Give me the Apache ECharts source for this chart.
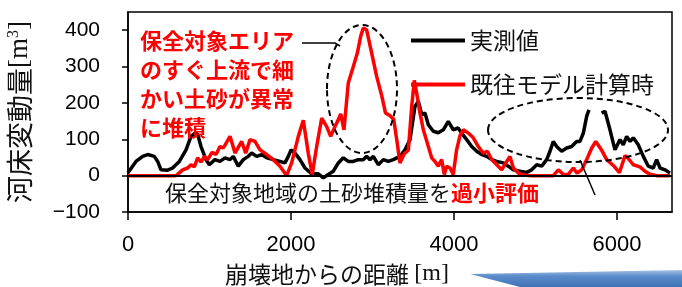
<!DOCTYPE html>
<html>
<head>
<meta charset="utf-8">
<script src="https://cdn.jsdelivr.net/npm/echarts@6/dist/echarts.min.js"></script>
<style>
  html, body { margin: 0; padding: 0; background: #fff; }
  #chart { width: 682px; height: 287px; }
</style>
</head>
<body>
<div id="chart"></div>
<script>
// 実測値 (black)
var blackDist = [0, 98, 180, 241, 323, 364, 405, 487, 548, 630, 712, 773, 822, 855, 896, 957, 998,
    1067, 1129, 1190, 1252, 1292, 1353, 1415, 1476, 1517, 1579, 1640, 1702, 1783, 1865, 1926, 1967,
    2000, 2049, 2110, 2172, 2254, 2335, 2397, 2458, 2519, 2581, 2642, 2703, 2765, 2826, 2887, 2928,
    2969, 3010, 3071, 3133, 3194, 3255, 3337, 3399, 3460, 3521, 3562, 3604, 3644, 3685, 3746, 3807,
    3869, 3930, 3991, 4049, 4094, 4156, 4217, 4279, 4340, 4401, 4463, 4524, 4605, 4666, 4728, 4810,
    4892, 4953, 5015, 5076, 5137, 5178, 5218, 5260, 5321, 5383, 5444, 5505, 5546, 5587, 5628, 5656,
    5730, 5812, 5853, 5914, 5975, 6037, 6077, 6119, 6160, 6200, 6261, 6323, 6384, 6445, 6487, 6528,
    6589, 6650];
var blackVal = [8, 39, 53, 58, 53, 39, 16, 15, 21, 39, 71, 108, 117, 113, 80, 44, 30,
    44, 39, 49, 44, 53, 26, 44, 53, 62, 53, 58, 49, 44, 39, 35, 53,
    71, 62, 44, 21, 5, 5, -6, 3, 12, 35, 49, 39, 39, 44, 44, 53,
    44, 53, 30, 44, 39, 44, 53, 71, 99, 190, 205, 168, 172, 140, 122, 118,
    126, 149, 126, 131, 117, 99, 80, 67, 58, 53, 44, 39, 35, 26, 16, 12,
    9, 16, 30, 26, 44, 67, 94, 80, 67, 76, 80, 94, 94, 117, 163, 181,
    null, 172, 177, 126, 71, 99, 85, 108, 94, 104, 85, 53, 26, 21, 44, 21,
    16, 7];

// 既往モデル計算時 (red)
var redDist = [0, 590, 671, 732, 773, 814, 855, 896, 937, 978, 1031, 1080, 1129, 1170, 1252, 1313,
    1395, 1444, 1497, 1558, 1620, 1702, 1783, 1865, 1947, 2008, 2090, 2151, 2213, 2261, 2315, 2377,
    2438, 2487, 2540, 2581, 2610, 2650, 2703, 2765, 2814, 2855, 2887, 2928, 2990, 3051, 3113, 3160,
    3215, 3260, 3300, 3337, 3390, 3440, 3481, 3513, 3542, 3583, 3624, 3685, 3726, 3767, 3807, 3849,
    3881, 3910, 3951, 3991, 4032, 4074, 4114, 4175, 4237, 4298, 4360, 4409, 4463, 4524, 4585, 4647,
    4687, 4728, 4789, 4851, 4950, 5100, 5218, 5280, 5342, 5400, 5464, 5510, 5567, 5628, 5690, 5740,
    5812, 5873, 5955, 6030, 6098, 6139, 6200, 6282, 6343, 6405, 6487, 6650];
var redVal = [0, 0, 16, 21, 30, 24, 49, 37, 53, 44, 64, 58, 80, 76, 108, 62,
    94, 62, 99, 94, 71, 58, 44, 26, 0, 35, 108, 152, 60, 3, 80, 158,
    135, 108, 135, 154, 170, 126, 255, 300, 337, 383, 406, 401, 337, 273, 220, 172,
    165, 155, 95, 35, 60, 70, 190, 262, 227, 172, 126, 80, 49, 39, 26, 44,
    3, 26, 21, 3, 71, 110, 126, 117, 104, 80, 62, 67, 44, 30, 16, 39,
    53, 21, 7, 2, 0, 0, 0, 16, 3, 3, 21, 7, 16, 44, 76, 94,
    70, 44, 28, 8, 55, 47, 30, 24, 12, 4, 0, 0];

var yTicks = [-100, 0, 100, 200, 300, 400];
var xTicks = [0, 2000, 4000, 6000];

function pairs(xs, ys) {
    var out = [];
    for (var i = 0; i < xs.length; i++) {
        out.push([xs[i], ys[i]]);
    }
    return out;
}

// plain numbers, real minus sign
function plain(v) {
    return v < 0 ? '\u2212' + Math.abs(v) : String(v);
}

var cjk = '"Noto Sans CJK JP", sans-serif';
var chart = echarts.init(document.getElementById('chart'));

var option = {
    animation: false,
    grid: {
        left: 128, right: 10, top: 12, bottom: 75,
        outerBoundsMode: 'none', containLabel: false,
        show: true, borderColor: '#000', borderWidth: 1.5
    },
    legend: {
        orient: 'vertical',
        left: 406, top: 24,
        itemWidth: 54, itemHeight: 4, itemGap: 21,
        textStyle: { fontFamily: cjk, fontSize: 23, color: '#111' },
        data: [
            { name: '実測値', icon: 'rect', itemStyle: { color: '#000' } },
            { name: '既往モデル計算時', icon: 'rect', itemStyle: { color: '#ff0000' } }
        ]
    },
    xAxis: {
        type: 'value', min: 0, max: 6675,
        name: '{a|崩壊地からの距離 }{b|[m]}',
        nameLocation: 'middle', nameGap: 50,
        nameTextStyle: {
            padding: [0, 126, 0, 0],
            rich: {
                a: { fontFamily: cjk, fontSize: 23, color: '#111' },
                b: { fontFamily: '"Liberation Serif", serif', fontSize: 24, color: '#111' }
            }
        },
        axisLine: { onZero: false, lineStyle: { color: '#000', width: 1.5 } },
        axisTick: { show: true, length: 8, lineStyle: { color: '#000', width: 1.5 }, customValues: xTicks },
        axisLabel: {
            customValues: xTicks, margin: 22, formatter: plain,
            fontFamily: '"Liberation Sans", Arial, sans-serif', fontSize: 22, color: '#000'
        },
        splitLine: { show: false }
    },
    yAxis: {
        type: 'value', min: -100, max: 450,
        name: '{a|河床変動量}{b|[m}{c|3}{b|]}',
        nameLocation: 'middle', nameGap: 95, nameRotate: 90,
        nameTextStyle: {
            rich: {
                a: { fontFamily: cjk, fontSize: 27, color: '#111' },
                b: { fontFamily: '"Liberation Serif", serif', fontSize: 27, color: '#111' },
                c: { fontFamily: '"Liberation Serif", serif', fontSize: 16, color: '#111', verticalAlign: 'top', padding: [0, 0, 10, 0] }
            }
        },
        axisLine: { onZero: false, lineStyle: { color: '#000', width: 1.5 } },
        axisTick: { show: true, length: 6, lineStyle: { color: '#000', width: 1.5 }, customValues: yTicks },
        axisLabel: {
            customValues: yTicks, margin: 28, formatter: plain,
            fontFamily: '"Liberation Sans", Arial, sans-serif', fontSize: 21, color: '#000'
        },
        splitLine: { show: false }
    },
    series: [
        {
            name: '実測値',
            type: 'line',
            data: pairs(blackDist, blackVal),
            showSymbol: false, symbol: 'none',
            connectNulls: false,
            lineStyle: { color: '#000', width: 3.5 },
            itemStyle: { color: '#000' },
            markLine: {
                silent: true, symbol: 'none',
                label: { show: false },
                lineStyle: { color: '#000', width: 2, type: 'solid' },
                data: [{ yAxis: 0 }]
            }
        },
        {
            name: '既往モデル計算時',
            type: 'line',
            data: pairs(redDist, redVal),
            showSymbol: false, symbol: 'none',
            lineStyle: { color: '#ff0000', width: 3.5 },
            itemStyle: { color: '#ff0000' }
        }
    ],
    graphic: [
        {
            type: 'text', left: 140, top: 26, z: 10,
            style: {
                text: '保全対象エリア\nのすぐ上流で細\nかい土砂が異常\nに堆積',
                fill: '#ff0000', fontFamily: cjk, fontWeight: 'bold',
                fontSize: 22, lineHeight: 29
            }
        },
        {
            type: 'text', left: 165, top: 182, z: 10,
            style: {
                text: '{n|保全対象地域の土砂堆積量を}{r|過小評価}',
                rich: {
                    n: { fontFamily: cjk, fontSize: 22, fill: '#111' },
                    r: { fontFamily: cjk, fontSize: 22, fill: '#ff0000', fontWeight: 'bold' }
                }
            }
        },
        {
            type: 'ellipse', z: 10,
            shape: { cx: 362, cy: 89, rx: 35, ry: 64 },
            style: { fill: 'none', stroke: '#000', lineWidth: 2, lineDash: [6, 4] }
        },
        {
            type: 'ellipse', z: 10,
            shape: { cx: 578, cy: 130, rx: 90, ry: 32 },
            style: { fill: 'none', stroke: '#000', lineWidth: 2, lineDash: [6, 4] }
        },
        {
            type: 'polyline', z: 10,
            shape: { points: [[302, 43], [335, 43], [340, 46]] },
            style: { stroke: '#000', lineWidth: 1.5, fill: 'none' }
        },
        {
            type: 'line', z: 10,
            shape: { x1: 580, y1: 160, x2: 595, y2: 195 },
            style: { stroke: '#000', lineWidth: 1.5 }
        },
        {
            type: 'polygon', z: 1,
            shape: { points: [[470, 274], [682, 270], [682, 287], [520, 287]] },
            style: {
                fill: new echarts.graphic.LinearGradient(0, 0, 0, 1, [
                    { offset: 0, color: '#a9c4e6' },
                    { offset: 0.35, color: '#5b8ccb' },
                    { offset: 1, color: '#3f72b5' }
                ])
            }
        }
    ]
};

chart.setOption(option);
</script>
</body>
</html>
